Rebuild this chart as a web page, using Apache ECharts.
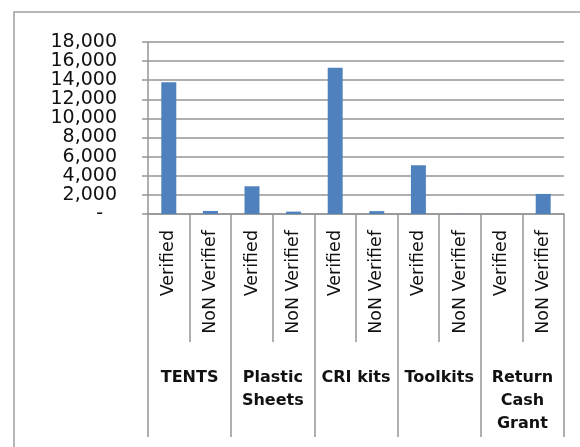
<!DOCTYPE html>
<html>
<head>
<meta charset="utf-8">
<script src="https://cdn.jsdelivr.net/npm/echarts@6/dist/echarts.min.js"></script>
<style>
html,body{margin:0;padding:0;background:#fff;}
#chart{width:580px;height:447px;}
</style>
</head>
<body>
<div id="chart"></div>
<script>
var subCategories = ['Verified','NoN Verifief','Verified','NoN Verifief','Verified','NoN Verifief','Verified','NoN Verifief','Verified','NoN Verifief'];
var groupCategories = ['TENTS','Plastic\nSheets','CRI kits','Toolkits','Return\nCash\nGrant'];
var values = [13800, 320, 2900, 250, 15300, 300, 5100, 20, 0, 2100];
var yMin = 0, yMax = 18000, yStep = 2000;

var chart = echarts.init(document.getElementById('chart'));
var fontFam = 'DejaVu Sans';
var lineCol = '#959595';
var textCol = '#111';
chart.setOption({
  animation: false,
  graphic: [{
    type: 'rect', silent: true,
    shape: {x: 14, y: 12, width: 700, height: 600},
    style: {fill: 'none', stroke: '#a0a0a0', lineWidth: 1.5}
  }],
  grid: {left: 148, right: 16, top: 42, bottom: 233, containLabel: false},
  xAxis: [{
    type: 'category',
    data: subCategories,
    position: 'bottom',
    axisLine: {show: true, lineStyle: {color: lineCol, width: 1.5}},
    axisTick: {show: true, length: 128, alignWithLabel: false, lineStyle: {color: lineCol, width: 1.5}},
    axisLabel: {rotate: 90, margin: 16, interval: 0, fontFamily: fontFam, fontSize: 17.5, color: textCol}
  }, {
    type: 'category',
    data: groupCategories,
    position: 'bottom',
    axisLine: {show: false},
    axisTick: {show: true, length: 223, alignWithLabel: false, lineStyle: {color: lineCol, width: 1.5}},
    axisLabel: {margin: 152, interval: 0, fontFamily: fontFam, fontSize: 16, fontWeight: 'bold', lineHeight: 23, color: textCol, align: 'center'}
  }],
  yAxis: {
    type: 'value',
    min: yMin, max: yMax, interval: yStep,
    axisLine: {show: true, lineStyle: {color: lineCol, width: 1.5}},
    axisTick: {show: true, length: 6, lineStyle: {color: lineCol, width: 1.5}},
    splitLine: {show: true, lineStyle: {color: lineCol, width: 1.5}},
    axisLabel: {
      margin: 31, fontFamily: fontFam, fontSize: 19, color: textCol,
      formatter: function (v) {
        if (v === 0) return '{d|-}';
        return v.toString().replace(/\B(?=(\d{3})+(?!\d))/g, ',');
      },
      rich: {d: {fontFamily: fontFam, fontSize: 19, color: textCol, padding: [0, 14, 0, 0]}}
    }
  },
  series: [{
    type: 'bar',
    xAxisIndex: 0,
    data: values,
    barWidth: '36%',
    itemStyle: {color: '#4F81BD'}
  }]
});
</script>
</body>
</html>
